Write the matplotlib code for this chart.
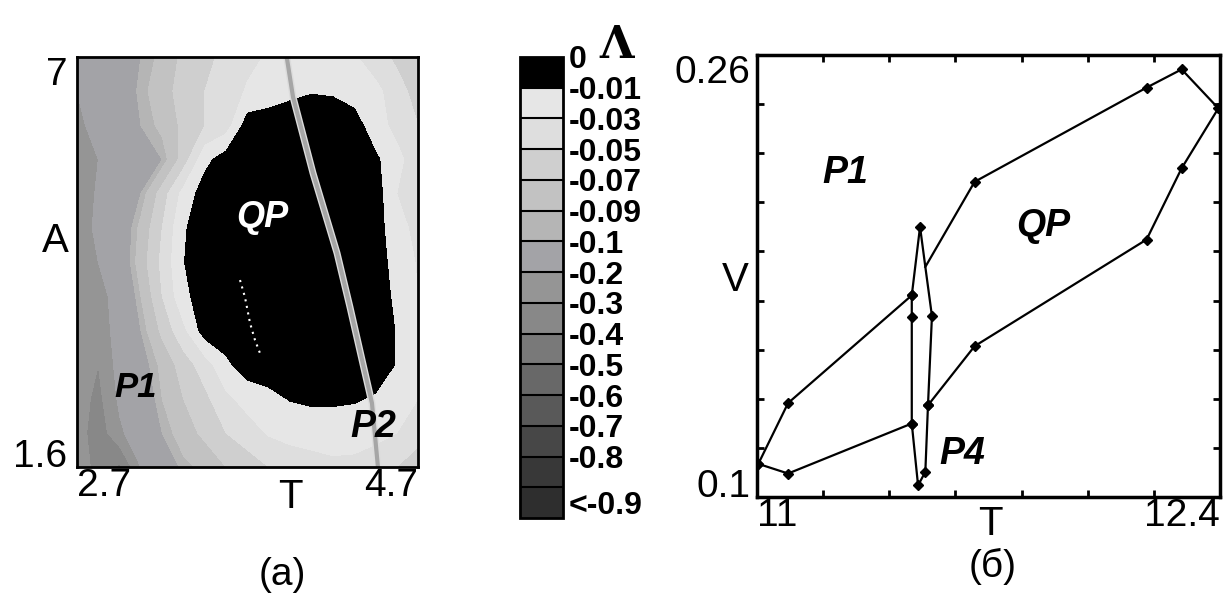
import numpy as np
import matplotlib
matplotlib.use('Agg')
import matplotlib.pyplot as plt

plt.rcParams['font.family'] = ['Liberation Sans', 'DejaVu Sans']

# ---------------- panel (a): Lyapunov exponent map Lambda(T, A) ----------------
T_grid = [2.7, 2.825, 2.95, 3.075, 3.2, 3.325, 3.45, 3.575, 3.7, 3.825, 3.95,
          4.075, 4.2, 4.325, 4.45, 4.575, 4.7]
A_grid = [7.0, 6.55, 6.1, 5.65, 5.2, 4.75, 4.3, 3.85, 3.4, 2.95, 2.5, 2.05, 1.6]

row_A70 = [-0.2, -0.15, -0.12, -0.1, -0.085, -0.065, -0.055, -0.045, -0.035, -0.028, -0.022, -0.018, -0.02, -0.028, -0.04, -0.055, -0.07]
row_A655 = [-0.2, -0.16, -0.12, -0.095, -0.08, -0.06, -0.05, -0.04, -0.028, -0.02, -0.014, -0.011, -0.012, -0.02, -0.025, -0.04, -0.06]
row_A61 = [-0.22, -0.17, -0.13, -0.1, -0.085, -0.065, -0.05, -0.04, 0, 0, 0, 0, 0, 0, -0.023, -0.035, -0.05]
row_A565 = [-0.25, -0.2, -0.16, -0.12, -0.1, -0.06, -0.016, 0, 0, 0, 0, 0, 0, 0, -0.006, -0.025, -0.04]
row_A52 = [-0.25, -0.19, -0.14, -0.1, -0.06, -0.023, 0, 0, 0, 0, 0, 0, 0, 0, 0, -0.03, -0.04]
row_A475 = [-0.25, -0.18, -0.12, -0.085, -0.05, -0.012, 0, 0, 0, 0, 0, 0, 0, 0, 0, -0.024, -0.035]
row_A43 = [-0.25, -0.2, -0.12, -0.08, -0.045, -0.0105, 0, 0, 0, 0, 0, 0, 0, 0, 0, -0.018, -0.032]
row_A385 = [-0.25, -0.26, -0.13, -0.09, -0.05, -0.015, 0, 0, 0, 0, 0, 0, 0, 0, 0, -0.014, -0.03]
row_A34 = [-0.25, -0.28, -0.14, -0.1, -0.065, -0.035, 0, 0, 0, 0, 0, 0, 0, 0, 0, -0.011, -0.028]
row_A295 = [-0.25, -0.3, -0.16, -0.11, -0.085, -0.06, -0.04, -0.0137, 0, 0, 0, 0, 0, 0, 0, -0.011, -0.025]
row_A25 = [-0.25, -0.33, -0.18, -0.12, -0.09, -0.07, -0.055, -0.035, -0.022, -0.015, -0.009, -0.007, -0.007, -0.008, -0.012, -0.02, -0.03]
row_A205 = [-0.25, -0.36, -0.22, -0.13, -0.1, -0.08, -0.065, -0.05, -0.04, -0.028, -0.022, -0.02, -0.02, -0.022, -0.025, -0.03, -0.04]
row_A16 = [-0.25, -0.33, -0.42, -0.2, -0.12, -0.095, -0.085, -0.07, -0.06, -0.05, -0.045, -0.04, -0.035, -0.035, -0.04, -0.05, -0.065]

Lambda_rows = [row_A70, row_A655, row_A61, row_A565, row_A52, row_A475, row_A43,
               row_A385, row_A34, row_A295, row_A25, row_A205, row_A16]

lambda_levels = [-1.0, -0.9, -0.8, -0.7, -0.6, -0.5, -0.4, -0.3, -0.2, -0.1,
                 -0.09, -0.07, -0.05, -0.03, -0.01, 0.0]
level_grays = ['#2e2e2e', '#383838', '#474747', '#595959', '#686868', '#797979',
               '#888888', '#959595', '#a3a3a7', '#b5b5b5', '#c2c2c2', '#cfcfcf',
               '#dedede', '#e6e6e6', '#000000']
cbar_ticks = [-0.95, -0.8, -0.7, -0.6, -0.5, -0.4, -0.3, -0.2, -0.1, -0.09,
              -0.07, -0.05, -0.03, -0.01, 0.0]
cbar_labels = ['<-0.9', '-0.8', '-0.7', '-0.6', '-0.5', '-0.4', '-0.3', '-0.2',
               '-0.1', '-0.09', '-0.07', '-0.05', '-0.03', '-0.01', '0']

# thin P2 stripe and white dotted line inside QP region
P2_T = [3.93, 3.967, 4.084, 4.225, 4.301, 4.372, 4.430, 4.465]
P2_A = [7.0, 6.473, 5.472, 4.418, 3.706, 3.008, 2.441, 1.6]
dot_T = [3.656, 3.685, 3.715, 3.744, 3.773]
dot_A = [4.062, 3.838, 3.495, 3.271, 3.1]

# ---------------- panel (б): bifurcation lines V(T) ----------------
b1_T = [11.004, 11.094, 11.468]
b1_V = [0.112, 0.134, 0.173]
spike_T = [11.493, 11.509, 11.529, 11.517, 11.509, 11.487, 11.468, 11.468, 11.468, 11.493]
spike_V = [0.1978, 0.1833, 0.1655, 0.1332, 0.1091, 0.1042, 0.1266, 0.1652, 0.173, 0.1978]
b2_T = [11.509, 11.658, 12.178, 12.284, 12.395, 12.284, 12.178, 11.658, 11.517]
b2_V = [0.1833, 0.2141, 0.2482, 0.2548, 0.2407, 0.219, 0.1932, 0.1546, 0.1332]
b3_T = [11.468, 11.094, 11.004]
b3_V = [0.1266, 0.1085, 0.112]

W, H = 1224, 594
fig = plt.figure(figsize=(W / 100, H / 100), dpi=100)

def rect(x0, y0, x1, y1):
    return [x0 / W, 1 - y1 / H, (x1 - x0) / W, (y1 - y0) / H]

# ---- left map ----
ax1 = fig.add_axes(rect(77, 57, 418, 467))
cf = ax1.contourf(T_grid, A_grid, np.array(Lambda_rows), levels=lambda_levels,
                  colors=level_grays)
ax1.plot(P2_T, P2_A, color='#dcdcdc', lw=5.0, solid_capstyle='butt')
ax1.plot(P2_T, P2_A, color='#a6a6a6', lw=3.0, solid_capstyle='butt')
ax1.plot(dot_T, dot_A, color='white', lw=1.5, ls=(0, (1, 2.2)))
ax1.set_xlim(2.7, 4.7)
ax1.set_ylim(1.6, 7.0)
ax1.set_xticks([2.7, 4.7], ['2.7', '4.7'])
ax1.set_yticks([1.6, 7.0], ['1.6', '7'])
ax1.tick_params(length=0, labelsize=28, pad=1)
ax1.tick_params(axis='y', pad=7)
xl = ax1.get_xticklabels(); xl[0].set_ha('left'); xl[1].set_ha('right')
yl = ax1.get_yticklabels(); yl[0].set_va('baseline'); yl[1].set_va('top')
for s in ax1.spines.values():
    s.set_linewidth(2)
ax1.text(-0.064, 0.551, 'A', transform=ax1.transAxes, fontsize=29, ha='center', va='center')
ax1.text(0.625, -0.072, 'T', transform=ax1.transAxes, fontsize=29, ha='center', va='center')
ax1.text(0.601, -0.263, '(a)', transform=ax1.transAxes, fontsize=28, ha='center', va='center')
ax1.text(3.785, 4.88, 'QP', color='white', fontsize=26, fontweight='bold',
         fontstyle='italic', ha='center', va='center')
ax1.text(3.046, 2.65, 'P1', color='black', fontsize=25, fontweight='bold',
         fontstyle='italic', ha='center', va='center')
ax1.text(4.44, 2.13, 'P2', color='black', fontsize=27, fontweight='bold',
         fontstyle='italic', ha='center', va='center')

# ---- colorbar ----
cax = fig.add_axes(rect(520, 57, 563, 518))
cb = fig.colorbar(cf, cax=cax, ticks=cbar_ticks, drawedges=True, spacing='uniform')
cb.set_ticklabels(cbar_labels)
cb.ax.tick_params(length=0, pad=4, labelsize=23)
for t in cb.ax.get_yticklabels():
    t.set_fontweight('bold')
cb.outline.set_linewidth(2)
cb.dividers.set_color('black')
cb.dividers.set_linewidth(1.5)
fig.text(617 / W, 1 - 46 / H, 'Λ', family=['DejaVu Serif'], fontsize=32,
         fontweight='bold', ha='center', va='center')

# ---- right panel ----
ax2 = fig.add_axes(rect(757, 55, 1220, 497))
line_kw = dict(color='black', lw=1.6, marker='D', ms=5, mfc='black', mec='black')
ax2.plot(b1_T, b1_V, **line_kw)
ax2.plot(spike_T, spike_V, markevery=[0, 2, 3, 4, 5, 6, 7, 8], **line_kw)
ax2.plot(b2_T, b2_V, markevery=list(range(1, 9)), **line_kw)
ax2.plot(b3_T, b3_V, **line_kw)
ax2.set_xlim(11, 12.4)
ax2.set_ylim(0.1, 0.26)
ax2.set_xticks([11, 12.4], ['11', '12.4'])
ax2.set_yticks([0.1, 0.26], ['0.1', '0.26'])
ax2.set_xticks(np.arange(11.2, 12.3, 0.2), minor=True)
ax2.set_yticks(np.linspace(0.1, 0.26, 10)[1:-1], minor=True)
ax2.tick_params(which='major', length=0, labelsize=28, pad=1)
ax2.tick_params(axis='y', which='major', pad=5)
ax2.tick_params(which='minor', direction='in', length=5, width=2,
                top=True, right=True)
xl = ax2.get_xticklabels(); xl[0].set_ha('left'); xl[1].set_ha('right')
yl = ax2.get_yticklabels(); yl[0].set_va('baseline'); yl[1].set_va('top')
for s in ax2.spines.values():
    s.set_linewidth(2.5)
ax2.text(-0.048, 0.491, 'V', transform=ax2.transAxes, fontsize=29, ha='center', va='center')
ax2.text(0.503, -0.062, 'T', transform=ax2.transAxes, fontsize=29, ha='center', va='center')
ax2.text(0.508, -0.158, '(б)', transform=ax2.transAxes, fontsize=28, ha='center', va='center')
ax2.text(11.267, 0.2173, 'P1', fontsize=27, fontweight='bold', fontstyle='italic',
         ha='center', va='center')
ax2.text(11.865, 0.198, 'QP', fontsize=27, fontweight='bold', fontstyle='italic',
         ha='center', va='center')
ax2.text(11.62, 0.1155, 'P4', fontsize=27, fontweight='bold', fontstyle='italic',
         ha='center', va='center')

fig.savefig('out.png', dpi=100)
